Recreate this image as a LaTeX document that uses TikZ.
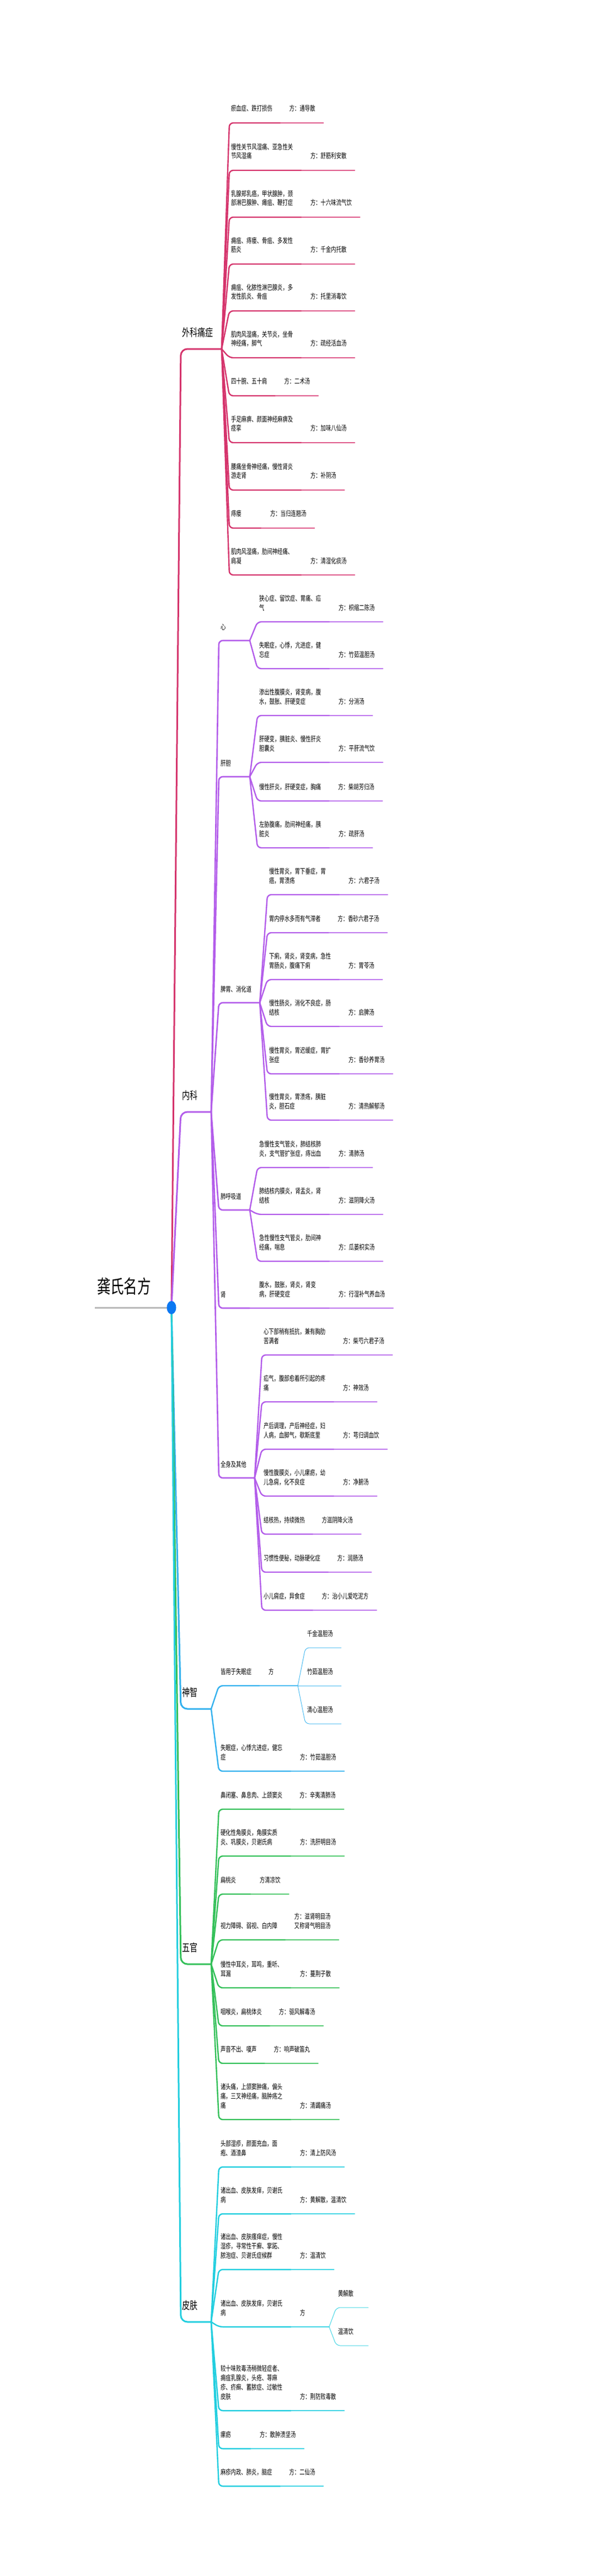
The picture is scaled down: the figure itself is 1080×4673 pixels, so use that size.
\documentclass[tikz,border=0pt]{standalone}
\usepackage{fontspec}
\usepackage{tikz}
\usetikzlibrary{calc}
\newfontfamily\cjk[FakeStretch=0.72]{Noto Sans CJK SC}

% Couleurs des branches (F : trait fort, L : trait léger)
\definecolor{roseF}{HTML}{D5346C}
\definecolor{roseL}{HTML}{DF5A8B}
\definecolor{violetF}{HTML}{B35DEA}
\definecolor{violetL}{HTML}{BF78EE}
\definecolor{bleuF}{HTML}{33B1EE}
\definecolor{bleuL}{HTML}{4EBCF1}
\definecolor{vertF}{HTML}{34C059}
\definecolor{vertL}{HTML}{55CB72}
\definecolor{cyanF}{HTML}{22CEDF}
\definecolor{cyanL}{HTML}{44D6E5}
\definecolor{pointR}{HTML}{0B78F2}
\colorlet{cF}{roseF}
\colorlet{cL}{roseL}

\tikzset{
  texte/.style={inner sep=0pt,outer sep=0pt,font=\cjk\fontsize{13}{16.7}\selectfont},
  maladie/.style={texte,align=left,anchor=south west,execute at end node=\strut},
  large/.style={text width=113pt},
  etiquette/.style={texte,anchor=base west},
  branche/.style={texte,anchor=base west,font=\cjk\fontsize{19.5}{24}\selectfont},
  trait/.style={draw=cF,line width=2.4pt,line cap=round,rounded corners=7pt},
  fin/.style={draw=cL,line width=1.6pt,line cap=round},
  fil/.style={draw=cL,line width=1pt,line cap=round,rounded corners=7pt},
  tronc/.style={line width=3pt,line cap=round,rounded corners=12pt}
}

% Feuille : maladie puis formule
% #1 nom, #2 parent, #3 x, #4 y de la ligne, #5 options, #6 maladie, #7 formule
\newcommand{\feuille}[7]{%
  \coordinate (#1-a) at (#3,#4);
  \node[maladie,#5] (#1) at (#3,#4-16) {#6};
  \path let \p1=(#1.east) in coordinate (#1-b) at ({max(\x1+15,#3+55)},#4);
  \node[maladie] (#1-f) at ([xshift=16pt,yshift=16pt]#1-b) {#7};
  \path let \p1=(#1-b), \p2=(#1-f.east) in coordinate (#1-c) at ({max(\x2+15,\x1+69)},#4);
  \draw[trait] (#2) -- ([xshift=-3pt]#1-a) -- (#1-b);
  \draw[fin] (#1-b) -- (#1-c);
}

% Sous-branche : #1 nom, #2 parent, #3 y, #4 texte
\newcommand{\rameau}[4]{%
  \coordinate (#1-a) at (400,#3);
  \node[etiquette] (#1) at (400,#3-20) {#4};
  \path let \p1=(#1.east) in coordinate (#1-b) at ({max(\x1+15,453)},#3);
  \draw[trait,line width=2.6pt] (#2) -- ([xshift=-3pt]#1-a) -- (#1-b);
}

% Enfant d'une formule : #1 nom, #2 parent, #3 x, #4 y, #5 texte
\newcommand{\enfant}[5]{%
  \coordinate (#1-a) at (#3,#4);
  \node[maladie] (#1) at (#3,#4-16) {#5};
  \path let \p1=(#1.east) in coordinate (#1-b) at ({max(\x1+15,#3+55)},#4);
  \draw[fil] (#2) -- ([xshift=-3pt]#1-a) -- (#1-b);
}

\begin{document}
\begin{tikzpicture}[x=1pt,y=-1pt]
  % Cadre de la page
  \fill[white] (0,0) rectangle (1080,4673);
  \useasboundingbox (0,0) rectangle (1080,4673);

  % Racine
  \coordinate (racine) at (311,2372);
  \coordinate (titre-a) at (172,2372);
  \node[texte,anchor=base west,font=\cjk\fontsize{34}{40}\selectfont] (titre) at (176,2346) {龚氏名方};

  % Branches principales
  \coordinate (waike-a) at (328,633);
  \node[branche] (waike) at (330,610.4) {外科痛症};
  \coordinate (waike-b) at (402,633);
  \coordinate (neike-a) at (328,2017);
  \node[branche] (neike) at (330,1994.4) {内科};
  \coordinate (neike-b) at (383,2017);
  \coordinate (shenzhi-a) at (328,3100);
  \node[branche] (shenzhi) at (330,3077.4) {神智};
  \coordinate (shenzhi-b) at (383,3100);
  \coordinate (wuguan-a) at (328,3563);
  \node[branche] (wuguan) at (330,3540.4) {五官};
  \coordinate (wuguan-b) at (383,3563);
  \coordinate (pifu-a) at (328,4212);
  \node[branche] (pifu) at (330,4189.4) {皮肤};
  \coordinate (pifu-b) at (383,4212);

  \draw[tronc,roseF] (racine) -- (waike-a) -- (waike-b);
  \draw[tronc,violetF] (racine) -- (neike-a) -- (neike-b);
  \draw[tronc,bleuF] (racine) -- (shenzhi-a) -- (shenzhi-b);
  \draw[tronc,vertF] (racine) -- (wuguan-a) -- (wuguan-b);
  \draw[tronc,cyanF] (racine) -- (pifu-a) -- (pifu-b);
  \draw[line width=3pt,gray!55] (titre-a) -- (racine);

  % 外科痛症
  \colorlet{cF}{roseF}\colorlet{cL}{roseL}
  \feuille{w1}{waike-b}{419}{223}{}{瘀血症、跌打损伤}{方：通导散}
  \feuille{w2}{waike-b}{419}{309}{large}{慢性关节风湿痛、亚急性关\\节风湿痛}{方：舒筋利安散}
  \feuille{w3}{waike-b}{419}{394}{large}{乳腺郑乳癌，甲状腺肿，颈\\部淋巴腺肿、瘫疽、鞭打症}{方：十六味流气饮}
  \feuille{w4}{waike-b}{419}{479}{large}{痈疽、痔瘘、骨疽、多发性\\筋炎}{方：千金内托散}
  \feuille{w5}{waike-b}{419}{564}{large}{痈疽、化脓性淋巴腺炎，多\\发性肌炎、骨疽}{方：托里消毒饮}
  \feuille{w6}{waike-b}{419}{649}{large}{肌肉风湿痛，关节炎，坐骨\\神经痛，脚气}{方：疏经活血汤}
  \feuille{w7}{waike-b}{419}{718}{}{四十腕、五十肩}{方：二术汤}
  \feuille{w8}{waike-b}{419}{803}{large}{手足麻痹、颜面神经麻痹及\\痉挛}{方：加味八仙汤}
  \feuille{w9}{waike-b}{419}{889}{large}{腰痛坐骨神经痛，慢性肾炎\\游走肾}{方：补阴汤}
  \feuille{w10}{waike-b}{419}{958}{}{痔瘘}{方：当归连翘汤}
  \feuille{w11}{waike-b}{419}{1043}{large}{肌肉风湿痛，肋间神经痛、\\肩凝}{方：清湿化痰汤}

  % 内科
  \colorlet{cF}{violetF}\colorlet{cL}{violetL}
  \rameau{xin}{neike-b}{1162}{心}
  \feuille{x1}{xin-b}{470}{1128}{large}{狭心症、留饮症、胃痛、疝\\气}{方：枳缩二陈汤}
  \feuille{x2}{xin-b}{470}{1213}{large}{失眠症，心悸，亢进症，健\\忘症}{方：竹茹温胆汤}

  \rameau{gan}{neike-b}{1409}{肝胆}
  \feuille{g1}{gan-b}{470}{1298}{large}{渗出性腹膜炎，肾变病，腹\\水，鼓胀、肝硬变症}{方：分消汤}
  \feuille{g2}{gan-b}{470}{1383}{large}{肝硬变，胰脏炎、慢性肝炎\\胆囊炎}{方：平肝流气饮}
  \feuille{g3}{gan-b}{470}{1453}{}{慢性肝炎，肝硬变症，胸痛}{方：柴胡芳归汤}
  \feuille{g4}{gan-b}{470}{1538}{large}{左胁腹痛，肋间神经痛，胰\\脏炎}{方：疏肝汤}

  \rameau{pi}{neike-b}{1819}{脾胃、消化道}
  \feuille{p1}{pi-b}{488}{1623}{large}{慢性胃炎，胃下垂症，胃\\癌，胃溃疡}{方：六君子汤}
  \feuille{p2}{pi-b}{488}{1692}{}{胃内停水多而有气滞者}{方：香砂六君子汤}
  \feuille{p3}{pi-b}{488}{1777}{large}{下痢，肾炎，肾变病，急性\\胃肠炎，腹痛下痢}{方：胃苓汤}
  \feuille{p4}{pi-b}{488}{1862}{large}{慢性肠炎，消化不良症，肠\\结核}{方：启脾汤}
  \feuille{p5}{pi-b}{488}{1948}{large}{慢性胃炎，胃迟缓症，胃扩\\张症}{方：香砂养胃汤}
  \feuille{p6}{pi-b}{488}{2032}{large}{慢性胃炎，胃溃疡，胰脏\\炎，胆石症}{方：清热解郁汤}

  \rameau{fei}{neike-b}{2195}{肺呼吸道}
  \feuille{f1}{fei-b}{470}{2118}{large}{急慢性支气管炎，肺结核肺\\炎，支气管扩张症，痔出血}{方：清肺汤}
  \feuille{f2}{fei-b}{470}{2203}{large}{肺结核内膜炎，肾盂炎，肾\\结核}{方：滋阴降火汤}
  \feuille{f3}{fei-b}{470}{2288}{large}{急性慢性支气管炎，肋间神\\经痛，喘息}{方：瓜蒌枳实汤}

  \rameau{shen}{neike-b}{2373}{肾}
  \feuille{s1}{shen-b}{470}{2373}{large}{腹水，鼓胀，肾炎，肾变\\病，肝硬变症}{方：行湿补气养血汤}

  \rameau{qs}{neike-b}{2681}{全身及其他}
  \feuille{q1}{qs-b}{478}{2458}{large}{心下部稍有抵抗，兼有胸肋\\苦满者}{方：柴芍六君子汤}
  \feuille{q2}{qs-b}{478}{2543}{large}{疝气，腹部愈着所引起的疼\\痛}{方：神效汤}
  \feuille{q3}{qs-b}{478}{2629}{large}{产后调理，产后神经症，妇\\人病，血脚气，歇斯底里}{方：芎归调血饮}
  \feuille{q4}{qs-b}{478}{2714}{large}{慢性腹膜炎，小儿瘰疬，幼\\儿急痫，化不良症}{方：净腑汤}
  \feuille{q5}{qs-b}{478}{2783}{}{结核热，持续微热}{方滋阴降火汤}
  \feuille{q6}{qs-b}{478}{2852}{}{习惯性便秘，动脉硬化症}{方：润肠汤}
  \feuille{q7}{qs-b}{478}{2921}{}{小儿痫症，异食症}{方：治小儿爱吃泥方}

  % 神智
  \colorlet{cF}{bleuF}\colorlet{cL}{bleuL}
  \feuille{z1}{shenzhi-b}{400}{3058}{}{皆用于失眠症}{方}
  \enfant{z1a}{z1-c}{557}{2989}{千金温胆汤}
  \enfant{z1b}{z1-c}{557}{3058}{竹茹温胆汤}
  \enfant{z1c}{z1-c}{557}{3127}{清心温胆汤}
  \feuille{z2}{shenzhi-b}{400}{3213}{large}{失眠症，心悸亢进症，健忘\\症}{方：竹茹温胆汤}

  % 五官
  \colorlet{cF}{vertF}\colorlet{cL}{vertL}
  \feuille{o1}{wuguan-b}{400}{3282}{}{鼻闭塞、鼻息肉、上颌窦炎}{方：辛夷清肺汤}
  \feuille{o2}{wuguan-b}{400}{3367}{large}{硬化性角膜炎，角膜实质\\炎、巩膜炎，贝谢氏病}{方：洗肝明目汤}
  \feuille{o3}{wuguan-b}{400}{3436}{}{扁桃炎}{方清凉饮}
  \feuille{o4}{wuguan-b}{400}{3519}{}{视力障碍、弱视、白内障}{方：滋肾明目汤\\又称肾气明目汤}
  \feuille{o5}{wuguan-b}{400}{3606}{large}{慢性中耳炎，耳鸣，重听、\\耳漏}{方：蔓荆子散}
  \feuille{o6}{wuguan-b}{400}{3675}{}{咽喉炎，扁桃体炎}{方：驱风解毒汤}
  \feuille{o7}{wuguan-b}{400}{3743}{}{声音不出、嗄声}{方：响声破笛丸}
  \feuille{o8}{wuguan-b}{400}{3845}{large}{诸头痛，上颌窦肿痛，偏头\\痛，三叉神经痛，脑肿疡之\\痛}{方：清蠲痛汤}

  % 皮肤
  \colorlet{cF}{cyanF}\colorlet{cL}{cyanL}
  \feuille{k1}{pifu-b}{400}{3931}{large}{头部湿疹，颜面充血，面\\疱、酒渣鼻}{方：清上防风汤}
  \feuille{k2}{pifu-b}{400}{4016}{large}{诸出血、皮肤发痒，贝谢氏\\病}{方：黄解散，温清饮}
  \feuille{k3}{pifu-b}{400}{4117}{large}{诸出血、皮肤瘙痒症，慢性\\湿疹，寻常性干癣、掌跖、\\脓泡症、贝谢氏症候群}{方：温清饮}
  \feuille{k4}{pifu-b}{400}{4221}{large}{诸出血、皮肤发痒，贝谢氏\\病}{方}
  \enfant{k4a}{k4-c}{613}{4186}{黄解散}
  \enfant{k4b}{k4-c}{613}{4255}{温清饮}
  \feuille{k5}{pifu-b}{400}{4373}{large}{较十味败毒汤稍微轻症者、\\痈疽乳腺炎，头疮、荨麻\\疹、疥癣、蓄脓症、过敏性\\皮肤}{方：荆防败毒散}
  \feuille{k6}{pifu-b}{400}{4442}{}{瘰疬}{方：散肿溃坚汤}
  \feuille{k7}{pifu-b}{400}{4510}{}{麻疹内政、肺炎，脑症}{方：二仙汤}

  % Point central
  \fill[pointR] (racine) ellipse [x radius=8.5pt,y radius=12pt];
\end{tikzpicture}
\end{document}
